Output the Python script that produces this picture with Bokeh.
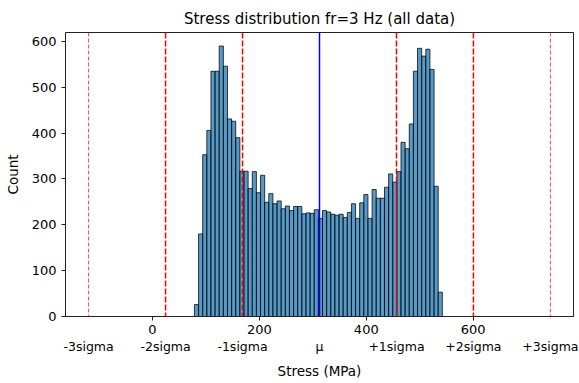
import numpy as np
from bokeh.plotting import figure
from bokeh.models import Span, LinearAxis, FixedTicker, CustomJSTickFormatter, Range1d
from bokeh.embed import file_html
from bokeh.resources import INLINE

# ---- data ----
counts = [26, 180, 353, 406, 535, 535, 590, 546, 431, 426,
          390, 317, 317, 279, 316, 270, 308, 249, 268, 246,
          252, 235, 241, 231, 240, 240, 224, 226, 225, 233,
          214, 231, 228, 223, 221, 223, 216, 227, 246, 214,
          248, 266, 214, 277, 258, 258, 282, 311, 293, 316,
          380, 366, 420, 535, 585, 568, 583, 539, 284, 53]
bin_start = 78.5
bin_width = 7.73
mu = 312.5
sigma = 144.0
sigma_k = [-3, -2, -1, 0, 1, 2, 3]
sigma_labels = ["-3sigma", "-2sigma", "-1sigma", "\u03bc", "+1sigma", "+2sigma", "+3sigma"]
x_ticks = [0, 200, 400, 600]
y_ticks = [0, 100, 200, 300, 400, 500, 600]

FONT = "DejaVu Sans"

n = len(counts)
lefts = [bin_start + i * bin_width for i in range(n)]
rights = [bin_start + (i + 1) * bin_width for i in range(n)]
sig_pos = [mu + k * sigma for k in sigma_k]

span_lo, span_hi = sig_pos[0], sig_pos[-1]
pad = 0.05 * (span_hi - span_lo)
ymax = max(counts) * 1.05

p = figure(width=579, height=383, output_backend="svg", toolbar_location=None,
           x_range=Range1d(span_lo - pad, span_hi + pad), y_range=Range1d(0, ymax),
           min_border_left=65, min_border_right=6, min_border_top=32, min_border_bottom=67,
           title="Stress distribution fr=3 Hz (all data)")

p.quad(left=lefts, right=rights, top=counts, bottom=0,
       fill_color="#1f77b4", fill_alpha=0.75, line_color="black", line_alpha=0.75, line_width=1)

for k, x in zip(sigma_k, sig_pos):
    if k == 0:
        sp = Span(location=x, dimension="height", line_color="#0000ff", line_width=1.5)
    elif abs(k) == 3:
        sp = Span(location=x, dimension="height", line_color="red", line_alpha=0.7,
                  line_width=1, line_dash="4 2")
    else:
        sp = Span(location=x, dimension="height", line_color="red",
                  line_width=1.5, line_dash="6 2")
    p.add_layout(sp)

# styling
p.title.align = "center"
p.title.text_font = FONT
p.title.text_font_size = "15px"
p.title.text_font_style = "normal"
p.title.text_color = "black"

p.xgrid.visible = False
p.ygrid.visible = False
p.outline_line_color = "#222222"
p.outline_line_width = 1
p.outline_line_alpha = 1

for ax in (p.xaxis[0], p.yaxis[0]):
    ax.axis_line_color = "#222222"
    ax.major_tick_line_color = "#222222"
    ax.major_tick_out = 4
    ax.major_tick_in = 0
    ax.minor_tick_out = 0
    ax.minor_tick_in = 0
    ax.major_label_text_font = FONT
    ax.major_label_text_font_size = "13px"
    ax.major_label_text_color = "black"
    ax.axis_label_text_font = FONT
    ax.axis_label_text_font_size = "13.5px"
    ax.axis_label_text_font_style = "normal"
    ax.axis_label_text_color = "black"

p.xaxis[0].ticker = FixedTicker(ticks=x_ticks)
p.yaxis[0].ticker = FixedTicker(ticks=y_ticks)
p.yaxis[0].axis_label = "Count"
p.yaxis[0].major_label_standoff = 5
p.yaxis[0].axis_label_standoff = 8
p.xaxis[0].major_label_standoff = 4

sig_axis = LinearAxis(ticker=FixedTicker(ticks=sig_pos),
                      formatter=CustomJSTickFormatter(args=dict(labels=sigma_labels),
                                                      code="return labels[index];"))
sig_axis.axis_line_color = None
sig_axis.major_tick_line_color = None
sig_axis.minor_tick_line_color = None
sig_axis.major_tick_out = 0
sig_axis.major_tick_in = 0
sig_axis.major_label_standoff = 2
sig_axis.major_label_text_font = FONT
sig_axis.major_label_text_font_size = "12.5px"
sig_axis.major_label_text_color = "black"
sig_axis.axis_label = "Stress (MPa)"
sig_axis.axis_label_text_font = FONT
sig_axis.axis_label_text_font_size = "13.5px"
sig_axis.axis_label_text_font_style = "normal"
sig_axis.axis_label_text_color = "black"
sig_axis.axis_label_standoff = 6
p.add_layout(sig_axis, "below")

open("out.html", "w").write(file_html(p, INLINE))
